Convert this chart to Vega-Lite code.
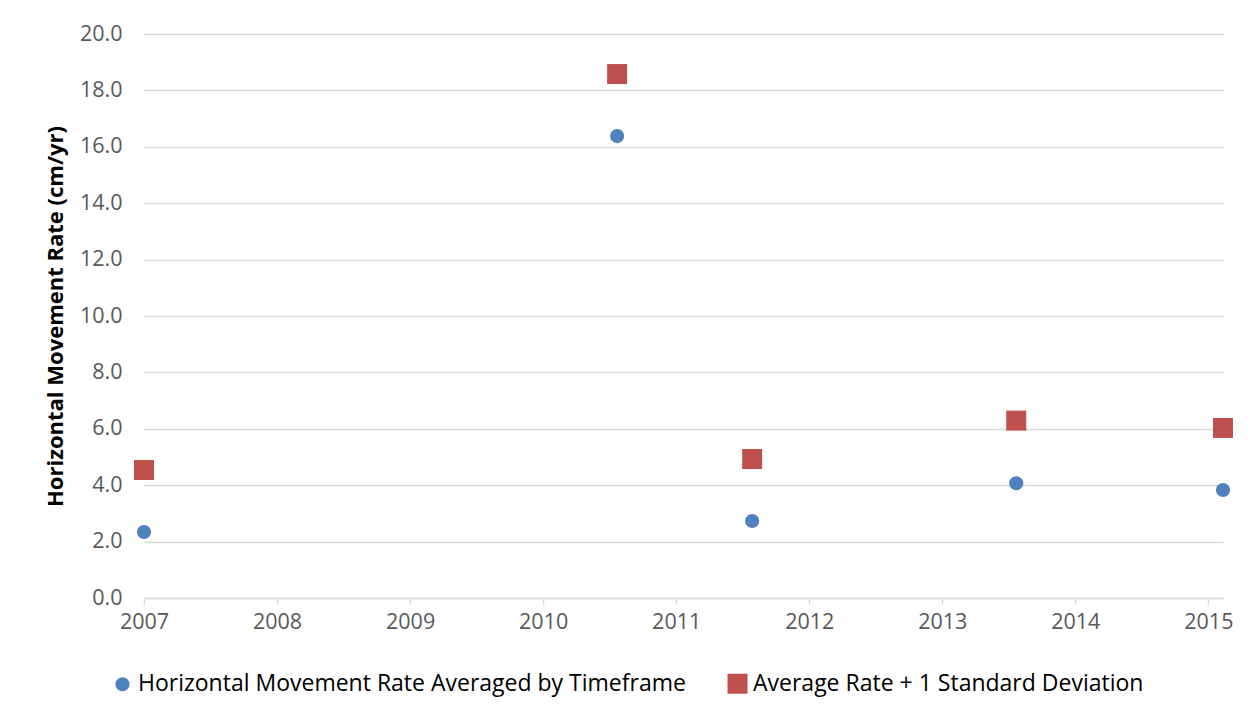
{
  "$schema": "https://vega.github.io/schema/vega-lite/v6.json",
  "width": 1079,
  "height": 564,
  "autosize": "none",
  "padding": {"left": 144, "top": 34, "right": 32, "bottom": 121},
  "background": "white",
  "config": {
    "font": "Open Sans",
    "view": {"stroke": null}
  },
  "data": {
    "values": [
      {"year": 2007.0, "rate": 2.34, "series": "Horizontal Movement Rate Averaged by Timeframe"},
      {"year": 2010.556, "rate": 16.38, "series": "Horizontal Movement Rate Averaged by Timeframe"},
      {"year": 2011.571, "rate": 2.73, "series": "Horizontal Movement Rate Averaged by Timeframe"},
      {"year": 2013.556, "rate": 4.07, "series": "Horizontal Movement Rate Averaged by Timeframe"},
      {"year": 2015.11, "rate": 3.83, "series": "Horizontal Movement Rate Averaged by Timeframe"},
      {"year": 2007.0, "rate": 4.54, "series": "Average Rate + 1 Standard Deviation"},
      {"year": 2010.556, "rate": 18.58, "series": "Average Rate + 1 Standard Deviation"},
      {"year": 2011.571, "rate": 4.93, "series": "Average Rate + 1 Standard Deviation"},
      {"year": 2013.556, "rate": 6.29, "series": "Average Rate + 1 Standard Deviation"},
      {"year": 2015.11, "rate": 6.03, "series": "Average Rate + 1 Standard Deviation"}
    ]
  },
  "mark": {"type": "point", "filled": true, "opacity": 1},
  "encoding": {
    "x": {
      "field": "year",
      "type": "quantitative",
      "scale": {"domain": [2007, 2015.11], "nice": false, "zero": false},
      "axis": {
        "title": null,
        "values": [2007, 2008, 2009, 2010, 2011, 2012, 2013, 2014, 2015],
        "format": "d",
        "grid": false,
        "domainColor": "#d9d9d9",
        "domainWidth": 1.5,
        "tickColor": "#d9d9d9",
        "tickSize": 6,
        "tickWidth": 1.5,
        "labelFontSize": 21.5,
        "labelColor": "#595959",
        "labelPadding": 7,
        "labelFlush": false
      }
    },
    "y": {
      "field": "rate",
      "type": "quantitative",
      "scale": {"domain": [0, 20], "nice": false},
      "axis": {
        "title": "Horizontal Movement Rate (cm/yr)",
        "titleFontSize": 22,
        "titleFontWeight": "bold",
        "titleColor": "#000000",
        "titlePadding": 12,
        "values": [0, 2, 4, 6, 8, 10, 12, 14, 16, 18, 20],
        "format": ".1f",
        "domain": false,
        "ticks": false,
        "grid": true,
        "gridColor": "#d9d9d9",
        "gridWidth": 1.5,
        "labelFontSize": 21.5,
        "labelColor": "#595959",
        "labelPadding": 22
      }
    },
    "color": {
      "field": "series",
      "type": "nominal",
      "scale": {
        "domain": ["Horizontal Movement Rate Averaged by Timeframe", "Average Rate + 1 Standard Deviation"],
        "range": ["#4F81BD", "#C0504D"]
      },
      "legend": {
        "title": null,
        "orient": "none",
        "direction": "horizontal",
        "legendX": -33,
        "legendY": 638,
        "labelFontSize": 23,
        "labelColor": "#000000",
        "symbolSize": 280,
        "symbolOpacity": 1,
        "labelOffset": 4,
        "columnPadding": 38,
        "labelLimit": 800
      }
    },
    "shape": {
      "field": "series",
      "type": "nominal",
      "scale": {
        "domain": ["Horizontal Movement Rate Averaged by Timeframe", "Average Rate + 1 Standard Deviation"],
        "range": ["circle", "square"]
      },
      "legend": {
        "title": null,
        "orient": "none",
        "direction": "horizontal",
        "legendX": -33,
        "legendY": 638,
        "labelFontSize": 23,
        "labelColor": "#000000",
        "symbolSize": 280,
        "symbolOpacity": 1,
        "labelOffset": 4,
        "columnPadding": 38,
        "labelLimit": 800
      }
    },
    "size": {
      "field": "series",
      "type": "nominal",
      "scale": {
        "domain": ["Horizontal Movement Rate Averaged by Timeframe", "Average Rate + 1 Standard Deviation"],
        "range": [200, 400]
      },
      "legend": null
    }
  }
}
